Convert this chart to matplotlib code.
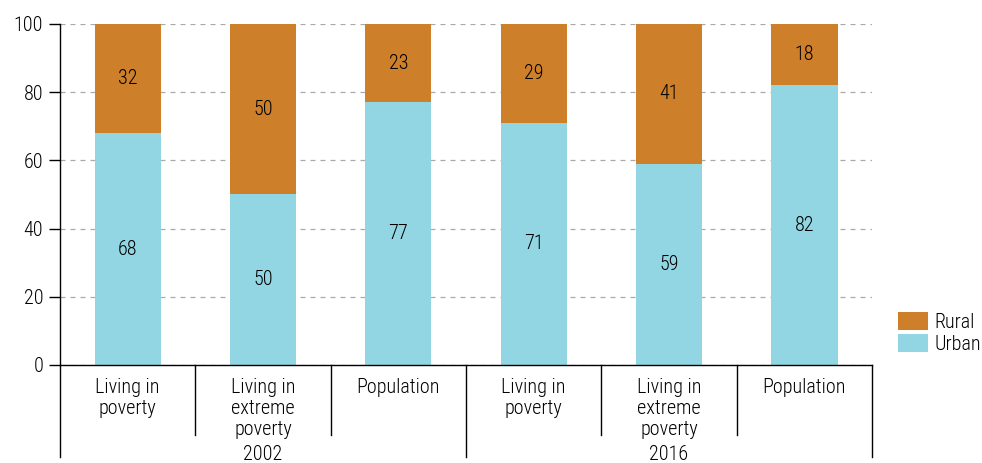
import matplotlib.pyplot as plt
import numpy as np

plt.rcParams['font.family'] = ['Roboto Condensed', 'Roboto', 'DejaVu Sans']
plt.rcParams['font.weight'] = 'light'

categories = ["Living in\npoverty", "Living in\nextreme\npoverty", "Population",
              "Living in\npoverty", "Living in\nextreme\npoverty", "Population"]
years = ["2002", "2016"]
urban = [68, 50, 77, 71, 59, 82]
rural = [32, 50, 23, 29, 41, 18]

c_urban = "#93d6e3"
c_rural = "#cd7f2a"

fig = plt.figure(figsize=(9.82, 4.63), dpi=100)
ax = fig.add_axes([0.0611, 0.2117, 0.8269, 0.7365])

x = np.arange(len(categories))
w = 0.49
ax.bar(x, urban, w, color=c_urban, label="Urban", zorder=2)
ax.bar(x, rural, w, bottom=urban, color=c_rural, label="Rural", zorder=2)

fs = 14.5
for i in range(len(x)):
    ax.text(x[i], urban[i] / 2, str(urban[i]), ha="center", va="center", fontsize=fs, zorder=3)
    ax.text(x[i], urban[i] + rural[i] / 2, str(rural[i]), ha="center", va="center", fontsize=fs, zorder=3)

ax.set_xlim(-0.5, len(x) - 0.5)
ax.set_ylim(0, 100)
ax.set_yticks(range(0, 101, 20))
ax.yaxis.grid(True, linestyle=(0, (4, 4)), color="#aaaaaa", linewidth=0.9, zorder=0)
ax.set_axisbelow(True)
ax.tick_params(axis="y", length=8, width=1, labelsize=fs, pad=4)
ax.tick_params(axis="x", length=0, labelbottom=False)
for s in ["top", "right"]:
    ax.spines[s].set_visible(False)
ax.spines["left"].set_linewidth(1)
ax.spines["bottom"].set_linewidth(1)

# category labels and separators below the axis
tr = ax.get_xaxis_transform()
for i, lab in enumerate(categories):
    ax.text(x[i], -0.038, lab, transform=tr, ha="center", va="top", fontsize=fs, linespacing=1.13)
for b in np.arange(-0.5, len(x), 1.0):
    long = (b + 0.5) % 3 == 0
    ax.plot([b, b], [0, -0.27 if long else -0.205], transform=tr, color="black",
            linewidth=1, clip_on=False)
for j, yr in enumerate(years):
    ax.text(1 + 3 * j, -0.263, yr, transform=tr, ha="center", va="center", fontsize=fs)

h, l = ax.get_legend_handles_labels()
ax.legend(h[::-1], l[::-1], loc="lower left", bbox_to_anchor=(1.01, -0.02), frameon=False,
          fontsize=fs, handlelength=1.5, handleheight=1.0, handletextpad=0.3, labelspacing=0.1)

fig.savefig("out.png", dpi=100)
